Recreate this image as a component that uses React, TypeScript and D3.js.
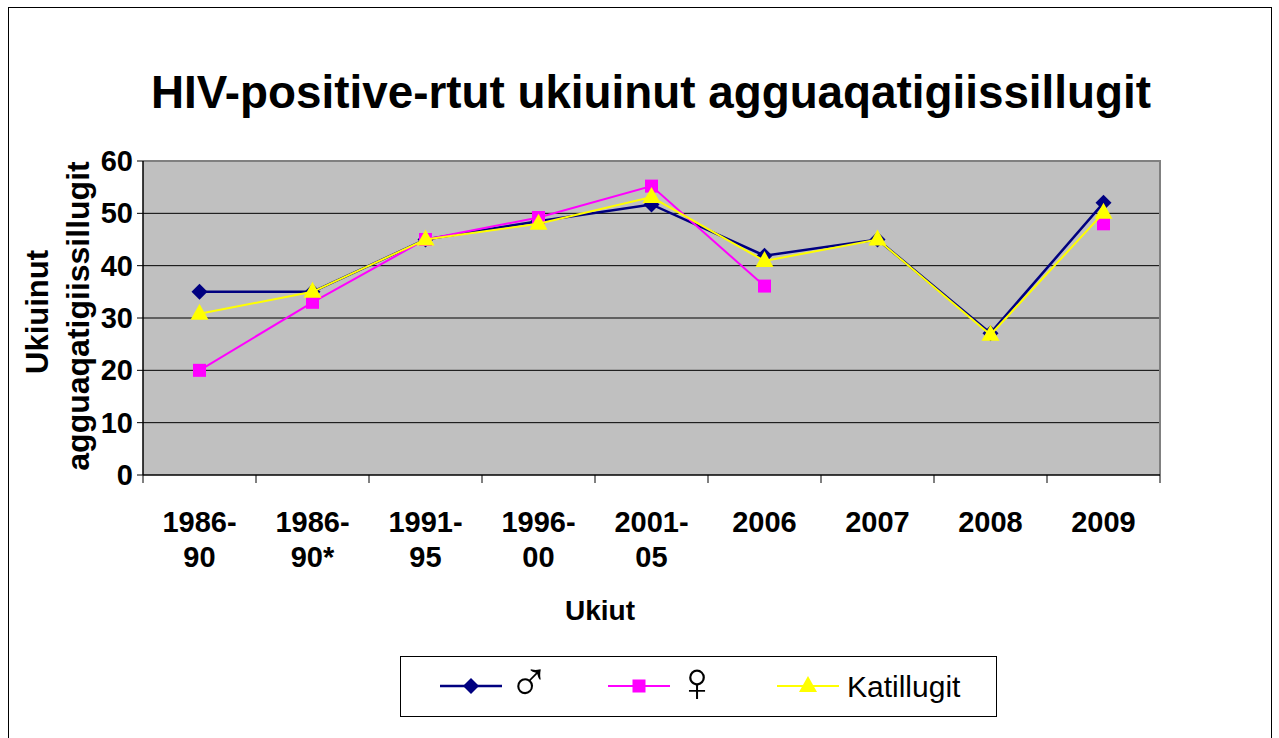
import React from 'react';
import * as d3 from 'd3';

const categories = ['1986-\n90', '1986-\n90*', '1991-\n95', '1996-\n00', '2001-\n05', '2006', '2007', '2008', '2009'];
const male = [35, 35, 45, 48.5, 51.7, 41.9, 45, 27.1, 52];
const female: (number | null)[] = [20, 33, 45, 49.2, 55.2, 36.1, null, null, 48];
const total = [30.8, 35, 45, 48, 53.1, 40.9, 45, 26.8, 50.1];
const yTicks = [0, 10, 20, 30, 40, 50, 60];

const width = 1279;
const height = 738;
const plot = { left: 143, right: 1160, top: 161, bottom: 475 };
const font = 'Arial, "Liberation Sans", sans-serif';

const Marker = ({ kind, x, y }: { kind: string; x: number; y: number }) => {
  if (kind === 'diamond')
    return <path d={`M${x},${y - 8}L${x + 8},${y}L${x},${y + 8}L${x - 8},${y}Z`} fill="#000080" />;
  if (kind === 'square')
    return <rect x={x - 6.5} y={y - 6.5} width={13} height={13} fill="#FF00FF" />;
  return <path d={`M${x},${y - 10}L${x + 9},${y + 6}L${x - 9},${y + 6}Z`} fill="#FFFF00" />;
};

export default function App() {
  const x = d3.scaleBand().domain(categories).range([plot.left, plot.right]);
  const y = d3.scaleLinear().domain([0, 60]).range([plot.bottom, plot.top]);
  const cx = (c: string) => (x(c) ?? 0) + x.bandwidth() / 2;

  const series = [
    { name: '♂', values: male, color: '#000080', kind: 'diamond', w: 2.5, fs: 56 },
    { name: '♀', values: female, color: '#FF00FF', kind: 'square', w: 2, fs: 56 },
    { name: 'Katillugit', values: total, color: '#FFFF00', kind: 'triangle', w: 2, fs: 30 },
  ];

  const line = d3
    .line<number | null>()
    .defined(d => d !== null)
    .x((_, i) => cx(categories[i]))
    .y(d => y(d as number));

  const boundaries = categories.map(c => x(c) ?? 0).concat([plot.right]);

  return (
    <div style={{ position: 'fixed', left: 0, top: 0 }}>
      <svg width={width} height={height} style={{ display: 'block', background: '#fff' }} fontFamily={font}>
        <rect x={8.5} y={7.5} width={1263} height={740} fill="#fff" stroke="#000" strokeWidth={1} />

        <text x={651} y={108} textAnchor="middle" fontSize={45.8} fontWeight="bold">
          HIV-positive-rtut ukiuinut agguaqatigiissillugit
        </text>

        <rect x={plot.left} y={plot.top} width={plot.right - plot.left} height={plot.bottom - plot.top} fill="#C0C0C0" />
        {yTicks.filter(t => t > 0 && t < 60).map(t => (
          <line key={t} x1={plot.left} x2={plot.right} y1={y(t)} y2={y(t)} stroke="#000" strokeWidth={1} />
        ))}
        <path d={`M${plot.left},${plot.top}H${plot.right}V${plot.bottom}`} fill="none" stroke="#808080" strokeWidth={2} />
        <line x1={plot.left} x2={plot.left} y1={plot.top} y2={plot.bottom} stroke="#000" strokeWidth={1.5} />
        <line x1={plot.left} x2={plot.right} y1={plot.bottom} y2={plot.bottom} stroke="#000" strokeWidth={1.5} />

        {yTicks.map(t => (
          <g key={t}>
            <line x1={plot.left - 6} x2={plot.left} y1={y(t)} y2={y(t)} stroke="#000" />
            <text x={133} y={y(t)} dy="0.35em" textAnchor="end" fontSize={29} fontWeight="bold">
              {t}
            </text>
          </g>
        ))}

        {boundaries.map((b, i) => (
          <line key={i} x1={b} x2={b} y1={plot.bottom} y2={plot.bottom + 8} stroke="#000" />
        ))}
        {categories.map(c => (
          <text key={c} x={cx(c)} y={532} textAnchor="middle" fontSize={29} fontWeight="bold">
            {c.split('\n').map((s, j) => (
              <tspan key={j} x={cx(c)} dy={j === 0 ? 0 : 35}>
                {s}
              </tspan>
            ))}
          </text>
        ))}

        <text x={600} y={620} textAnchor="middle" fontSize={28} fontWeight="bold">
          Ukiut
        </text>
        <text transform="translate(48,312) rotate(-90)" textAnchor="middle" fontSize={31} fontWeight="bold">
          Ukiuinut
        </text>
        <text transform="translate(89,316) rotate(-90)" textAnchor="middle" fontSize={32} fontWeight="bold">
          agguaqatigiissillugit
        </text>

        {series.map(s => (
          <g key={s.name}>
            <path d={line(s.values) ?? ''} fill="none" stroke={s.color} strokeWidth={s.w} />
            {s.values.map((v, i) =>
              v === null ? null : <Marker key={i} kind={s.kind} x={cx(categories[i])} y={y(v)} />
            )}
          </g>
        ))}

        <rect x={400.5} y={656.5} width={596} height={60} fill="#fff" stroke="#000" strokeWidth={1} />
        {series.map((s, i) => {
          const lx = [440, 608, 777][i];
          return (
            <g key={s.name}>
              <line x1={lx} x2={lx + 62} y1={686} y2={686} stroke={s.color} strokeWidth={s.w} />
              <Marker kind={s.kind} x={lx + 31} y={686} />
              <text
                x={lx + (i < 2 ? 68 : 70)}
                y={i < 2 ? 701 : 697}
                fontSize={s.fs}
                fontWeight={i < 2 ? 200 : 'normal'}
                fontFamily={i < 2 ? '"DejaVu Sans", sans-serif' : font}
              >
                {s.name}
              </text>
            </g>
          );
        })}
      </svg>
    </div>
  );
}
